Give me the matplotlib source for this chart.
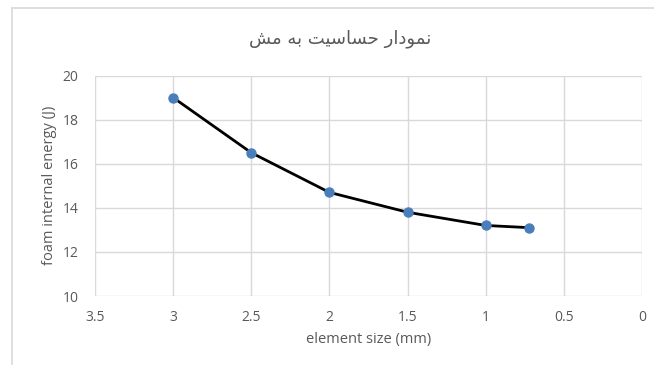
import unicodedata
import matplotlib
matplotlib.use("Agg")
import matplotlib.pyplot as plt
from matplotlib.lines import Line2D

# Data
element_size = [3.0, 2.5, 2.0, 1.5, 1.0, 0.72]
internal_energy = [19.0, 16.5, 14.7, 13.8, 13.2, 13.1]
x_ticks = [3.5, 3.0, 2.5, 2.0, 1.5, 1.0, 0.5, 0.0]
x_tick_labels = ["3.5", "3", "2.5", "2", "1.5", "1", "0.5", "0"]
y_ticks = [10, 12, 14, 16, 18, 20]

title_text = "نمودار حساسیت به مش"
x_label = "element size (mm)"
y_label = "foam internal energy (J)"

# Letters that only connect to the preceding letter
RIGHT_JOINING = set("اآأإدذرزژو")


def shape_arabic(text):
    """Convert logical Arabic/Persian text into visual-order presentation forms."""
    def is_letter(c):
        return c != " " and "ARABIC" in unicodedata.name(c, "")

    out = []
    for i, ch in enumerate(text):
        if not is_letter(ch):
            out.append(ch)
            continue
        prev = text[i - 1] if i > 0 else " "
        nxt = text[i + 1] if i + 1 < len(text) else " "
        joins_prev = is_letter(prev) and prev not in RIGHT_JOINING
        joins_next = is_letter(nxt) and ch not in RIGHT_JOINING
        if joins_prev and joins_next:
            form = "MEDIAL"
        elif joins_prev:
            form = "FINAL"
        elif joins_next:
            form = "INITIAL"
        else:
            form = "ISOLATED"
        name = unicodedata.name(ch)
        try:
            out.append(unicodedata.lookup(f"{name} {form} FORM"))
        except KeyError:
            out.append(ch)
    return "".join(reversed(out))


text_grey = "#595959"
grid_grey = "#d9d9d9"

fig = plt.figure(figsize=(6.54, 3.65), dpi=100)
ax = fig.add_axes([95 / 654, 0.189, (642 - 95) / 654, 0.793 - 0.189])

ax.plot(element_size, internal_energy, color="black", linewidth=2, zorder=3)
ax.plot(element_size, internal_energy, linestyle="none", marker="o",
        markersize=6.5, color="#4a7ebb", zorder=4)

ax.set_xlim(3.5, 0)
ax.set_ylim(10, 20)
ax.set_xticks(x_ticks)
ax.set_xticklabels(x_tick_labels)
ax.set_yticks(y_ticks)
ax.grid(True, color=grid_grey, linewidth=1)
ax.set_axisbelow(True)
for s in ax.spines.values():
    s.set_visible(False)
ax.tick_params(axis="both", length=0, colors=text_grey, labelsize=10)
ax.tick_params(axis="x", pad=10)
ax.tick_params(axis="y", pad=12)
for lbl in ax.get_xticklabels() + ax.get_yticklabels():
    lbl.set_fontfamily("Open Sans")

ax.set_xlabel(x_label, color=text_grey, fontsize=10.5, fontfamily="Open Sans", labelpad=5)
ax.set_ylabel(y_label, color=text_grey, fontsize=10.5, fontfamily="Open Sans", labelpad=4)

fig.text(0.52, 0.895, shape_arabic(title_text), ha="center", va="center",
         fontsize=13, color=text_grey, fontfamily="DejaVu Sans")

# Chart frame edges (left and top)
fig.add_artist(Line2D([12 / 654, 12 / 654], [0, 1 - 8 / 365], transform=fig.transFigure,
                      color="#d9d9d9", linewidth=1.2))
fig.add_artist(Line2D([12 / 654, 1], [1 - 8 / 365, 1 - 8 / 365], transform=fig.transFigure,
                      color="#d9d9d9", linewidth=1.2))

fig.savefig("out.png", dpi=100, facecolor="white")
